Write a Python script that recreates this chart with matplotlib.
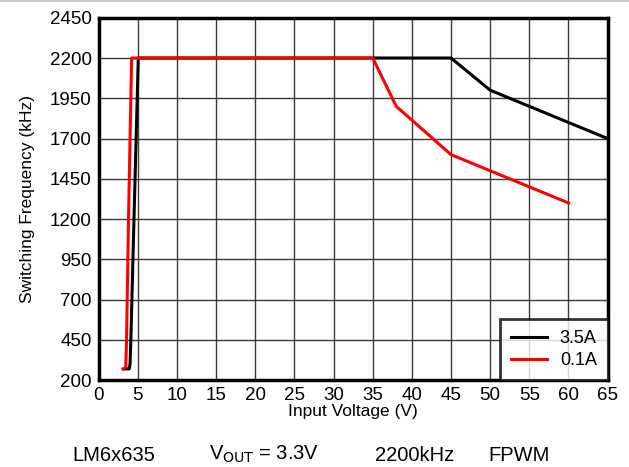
import numpy as np
import matplotlib
matplotlib.use("Agg")
import matplotlib.pyplot as plt

plt.rcParams['font.family'] = ['Liberation Sans', 'DejaVu Sans']

# 3.5A load
vin_35 = [3.2, 3.9, 4.0, 4.1, 4.5, 5.05, 45, 50, 55, 60, 65]
fsw_35 = [270, 270, 300, 450, 1200, 2200, 2200, 2000, 1900, 1800, 1700]

# 0.1A load
vin_01 = [3.1, 3.45, 3.55, 3.8, 4.2, 35, 38, 45, 50, 55, 60]
fsw_01 = [270, 280, 450, 1200, 2200, 2200, 1900, 1600, 1500, 1400, 1300]

x_ticks = list(range(0, 66, 5))
y_ticks = list(range(200, 2451, 250))

fig = plt.figure(figsize=(6.29, 4.67), dpi=100)
ax = fig.add_axes([0.157, 0.186, 0.809, 0.776])

ax.plot(vin_35, fsw_35, color='black', lw=2.2, label='3.5A', zorder=3)
ax.plot(vin_01, fsw_01, color='#ff0000', lw=2.2, label='0.1A', zorder=3)

ax.set_xlim(0, 65)
ax.set_ylim(200, 2450)
ax.set_xticks(x_ticks)
ax.set_yticks(y_ticks)
ax.tick_params(labelsize=13.5, length=0, pad=5)
ax.grid(True, color='#3a3a3a', lw=1.0)
for s in ax.spines.values():
    s.set_linewidth(2.5)
    s.set_color('black')

ax.set_xlabel('Input Voltage (V)', fontsize=12.5, labelpad=0)
ax.set_ylabel('Switching Frequency (kHz)', fontsize=12.5, labelpad=11)

leg = ax.legend(loc='lower right', fontsize=13, frameon=True, fancybox=False,
                borderaxespad=0, handlelength=2.0, borderpad=0.6,
                labelspacing=0.3, handletextpad=0.7)
leg.get_frame().set_edgecolor('black')
leg.get_frame().set_linewidth(2.0)

ty = 0.005
fig.text(0.115, ty, 'LM6x635', fontsize=14.5, ha='left', va='bottom')
fig.text(0.332, ty, r'V$_{\mathrm{OUT}}$ = 3.3V', fontsize=14.5, ha='left', va='bottom')
fig.text(0.596, ty, '2200kHz', fontsize=14.5, ha='left', va='bottom')
fig.text(0.776, ty, 'FPWM', fontsize=14.5, ha='left', va='bottom')

# thin grey rule at the very top
fig.add_artist(plt.Line2D([0, 1], [0.998, 0.998], color='#cccccc', lw=1.5))

fig.savefig('out.png', dpi=100)
